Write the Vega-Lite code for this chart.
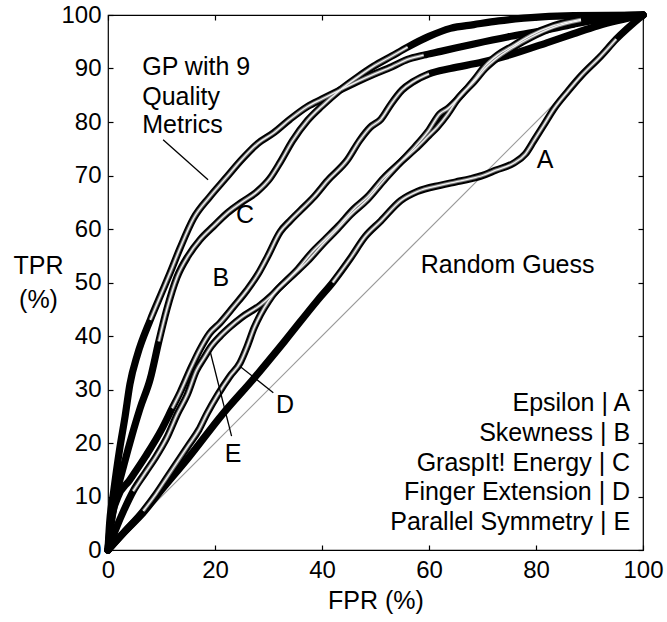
{
  "$schema": "https://vega.github.io/schema/vega-lite/v6.json",
  "width": 535,
  "height": 535,
  "autosize": {"type": "none"},
  "padding": {"left": 108, "top": 15, "right": 24, "bottom": 72},
  "background": "white",
  "config": {
    "font": "Liberation Sans",
    "view": {"stroke": "black", "strokeWidth": 1.2},
    "axis": {"grid": false, "domain": false, "labelFlush": false, "tickColor": "black", "tickSize": -5, "tickWidth": 1.2, "labelColor": "black", "labelFont": "Liberation Sans", "labelFontSize": 24, "titleFont": "Liberation Sans", "titleFontSize": 25, "titleFontWeight": "normal", "titleColor": "black"}
  },
  "datasets": {
    "curves": [
      {"s":"GP","fpr":0,"tpr":0},{"s":"GP","fpr":0.3,"tpr":5},{"s":"GP","fpr":1,"tpr":10.5},{"s":"GP","fpr":2.2,"tpr":19},{"s":"GP","fpr":3.2,"tpr":25},{"s":"GP","fpr":4.1,"tpr":31},{"s":"GP","fpr":5.5,"tpr":36.5},{"s":"GP","fpr":7.9,"tpr":43},{"s":"GP","fpr":10,"tpr":48},{"s":"GP","fpr":11.6,"tpr":51.8},{"s":"GP","fpr":13.5,"tpr":56.5},{"s":"GP","fpr":16,"tpr":62},{"s":"GP","fpr":19,"tpr":66},{"s":"GP","fpr":22,"tpr":69.5},{"s":"GP","fpr":25,"tpr":73},{"s":"GP","fpr":28,"tpr":76},{"s":"GP","fpr":31,"tpr":78},{"s":"GP","fpr":34,"tpr":80.5},{"s":"GP","fpr":37.3,"tpr":82.9},{"s":"GP","fpr":40,"tpr":84.3},{"s":"GP","fpr":43.4,"tpr":86},{"s":"GP","fpr":46.5,"tpr":87.5},{"s":"GP","fpr":49.6,"tpr":88.9},{"s":"GP","fpr":53,"tpr":90.3},{"s":"GP","fpr":56,"tpr":91.7},{"s":"GP","fpr":59,"tpr":92.5},{"s":"GP","fpr":62.2,"tpr":93.2},{"s":"GP","fpr":68.4,"tpr":94.6},{"s":"GP","fpr":74.7,"tpr":95.9},{"s":"GP","fpr":80.9,"tpr":97},{"s":"GP","fpr":87.1,"tpr":98.3},{"s":"GP","fpr":93.4,"tpr":99.4},{"s":"GP","fpr":100,"tpr":100},
      {"s":"C","fpr":0,"tpr":0},{"s":"C","fpr":0.6,"tpr":5},{"s":"C","fpr":1.5,"tpr":10},{"s":"C","fpr":3,"tpr":16},{"s":"C","fpr":4.5,"tpr":21.5},{"s":"C","fpr":6,"tpr":26.5},{"s":"C","fpr":7.9,"tpr":32},{"s":"C","fpr":9.5,"tpr":39},{"s":"C","fpr":11,"tpr":45},{"s":"C","fpr":12.9,"tpr":51},{"s":"C","fpr":15,"tpr":55},{"s":"C","fpr":17.2,"tpr":58},{"s":"C","fpr":19.7,"tpr":60.5},{"s":"C","fpr":22.3,"tpr":63},{"s":"C","fpr":25,"tpr":65},{"s":"C","fpr":27.9,"tpr":67},{"s":"C","fpr":30.3,"tpr":69.5},{"s":"C","fpr":32.2,"tpr":72.5},{"s":"C","fpr":34.5,"tpr":76.5},{"s":"C","fpr":37.3,"tpr":80.3},{"s":"C","fpr":40,"tpr":83},{"s":"C","fpr":43.4,"tpr":86},{"s":"C","fpr":46.5,"tpr":88.3},{"s":"C","fpr":49.6,"tpr":90.4},{"s":"C","fpr":53,"tpr":92.3},{"s":"C","fpr":56,"tpr":94},{"s":"C","fpr":60,"tpr":96},{"s":"C","fpr":64,"tpr":97.5},{"s":"C","fpr":68.4,"tpr":98.2},{"s":"C","fpr":73,"tpr":98.9},{"s":"C","fpr":77.7,"tpr":99.4},{"s":"C","fpr":87,"tpr":99.9},{"s":"C","fpr":100,"tpr":100},
      {"s":"B","fpr":0,"tpr":0},{"s":"B","fpr":0.5,"tpr":5},{"s":"B","fpr":1.8,"tpr":9.8},{"s":"B","fpr":4,"tpr":13},{"s":"B","fpr":7,"tpr":17.5},{"s":"B","fpr":10,"tpr":22.5},{"s":"B","fpr":12,"tpr":26.5},{"s":"B","fpr":13.5,"tpr":29.5},{"s":"B","fpr":15.5,"tpr":34},{"s":"B","fpr":17.2,"tpr":37.5},{"s":"B","fpr":19,"tpr":40.5},{"s":"B","fpr":21,"tpr":42.5},{"s":"B","fpr":23.5,"tpr":45.5},{"s":"B","fpr":26,"tpr":48.6},{"s":"B","fpr":28,"tpr":51.5},{"s":"B","fpr":29.8,"tpr":54.8},{"s":"B","fpr":32.2,"tpr":59.5},{"s":"B","fpr":34,"tpr":61.5},{"s":"B","fpr":36,"tpr":63.5},{"s":"B","fpr":38.5,"tpr":66},{"s":"B","fpr":41,"tpr":69},{"s":"B","fpr":44.8,"tpr":73},{"s":"B","fpr":47,"tpr":76.5},{"s":"B","fpr":49,"tpr":79},{"s":"B","fpr":51,"tpr":80.5},{"s":"B","fpr":53,"tpr":83.5},{"s":"B","fpr":55,"tpr":86},{"s":"B","fpr":57,"tpr":87.5},{"s":"B","fpr":60,"tpr":89},{"s":"B","fpr":64,"tpr":90},{"s":"B","fpr":70,"tpr":91.2},{"s":"B","fpr":75,"tpr":92.5},{"s":"B","fpr":82,"tpr":94.8},{"s":"B","fpr":87,"tpr":96.5},{"s":"B","fpr":91.6,"tpr":98},{"s":"B","fpr":100,"tpr":100},
      {"s":"E","fpr":0,"tpr":0},{"s":"E","fpr":1.5,"tpr":4},{"s":"E","fpr":3,"tpr":7.5},{"s":"E","fpr":4.7,"tpr":11},{"s":"E","fpr":7,"tpr":14.5},{"s":"E","fpr":9,"tpr":17.5},{"s":"E","fpr":11,"tpr":21},{"s":"E","fpr":13,"tpr":25.5},{"s":"E","fpr":14.8,"tpr":29},{"s":"E","fpr":16.5,"tpr":33.5},{"s":"E","fpr":18,"tpr":36},{"s":"E","fpr":19.1,"tpr":37.8},{"s":"E","fpr":21,"tpr":40},{"s":"E","fpr":22.8,"tpr":41.7},{"s":"E","fpr":25,"tpr":43.5},{"s":"E","fpr":28.5,"tpr":45.8},{"s":"E","fpr":30.5,"tpr":47.5},{"s":"E","fpr":32.2,"tpr":49.2},{"s":"E","fpr":35,"tpr":51.8},{"s":"E","fpr":37.3,"tpr":54},{"s":"E","fpr":40,"tpr":57},{"s":"E","fpr":42.9,"tpr":60},{"s":"E","fpr":45.5,"tpr":62.8},{"s":"E","fpr":48.5,"tpr":65.5},{"s":"E","fpr":51.5,"tpr":69},{"s":"E","fpr":54.7,"tpr":72.5},{"s":"E","fpr":57.5,"tpr":75.5},{"s":"E","fpr":60,"tpr":78.5},{"s":"E","fpr":62,"tpr":81.5},{"s":"E","fpr":63.5,"tpr":82.5},{"s":"E","fpr":66,"tpr":85},{"s":"E","fpr":68.4,"tpr":87.8},{"s":"E","fpr":70.5,"tpr":90.5},{"s":"E","fpr":72.8,"tpr":92.5},{"s":"E","fpr":75.8,"tpr":94.3},{"s":"E","fpr":79,"tpr":96.2},{"s":"E","fpr":83.3,"tpr":98},{"s":"E","fpr":88.4,"tpr":99.2},{"s":"E","fpr":94,"tpr":99.8},{"s":"E","fpr":100,"tpr":100},
      {"s":"D","fpr":0,"tpr":0},{"s":"D","fpr":3,"tpr":3.3},{"s":"D","fpr":6.6,"tpr":7.3},{"s":"D","fpr":9,"tpr":10.5},{"s":"D","fpr":11,"tpr":13.5},{"s":"D","fpr":13,"tpr":16.5},{"s":"D","fpr":15,"tpr":19.5},{"s":"D","fpr":17,"tpr":22.5},{"s":"D","fpr":18.5,"tpr":25.5},{"s":"D","fpr":20.5,"tpr":29},{"s":"D","fpr":22.8,"tpr":32.5},{"s":"D","fpr":24.7,"tpr":35},{"s":"D","fpr":26,"tpr":38},{"s":"D","fpr":27.3,"tpr":41.5},{"s":"D","fpr":28.5,"tpr":44},{"s":"D","fpr":30,"tpr":46.5},{"s":"D","fpr":31.5,"tpr":48.5},{"s":"D","fpr":33,"tpr":50},{"s":"D","fpr":35.5,"tpr":52.5},{"s":"D","fpr":38,"tpr":55.5},{"s":"D","fpr":40.5,"tpr":58},{"s":"D","fpr":43,"tpr":60.5},{"s":"D","fpr":46,"tpr":63.8},{"s":"D","fpr":48.5,"tpr":66},{"s":"D","fpr":51.5,"tpr":69.5},{"s":"D","fpr":54.7,"tpr":72.5},{"s":"D","fpr":57.5,"tpr":75},{"s":"D","fpr":60,"tpr":77.5},{"s":"D","fpr":61.5,"tpr":79},{"s":"D","fpr":63.5,"tpr":81.5},{"s":"D","fpr":65.5,"tpr":84.5},{"s":"D","fpr":68.4,"tpr":87.5},{"s":"D","fpr":70.5,"tpr":90},{"s":"D","fpr":72.8,"tpr":92},{"s":"D","fpr":75.8,"tpr":94},{"s":"D","fpr":79,"tpr":95.8},{"s":"D","fpr":83.3,"tpr":97.7},{"s":"D","fpr":88.4,"tpr":99},{"s":"D","fpr":94,"tpr":99.8},{"s":"D","fpr":100,"tpr":100},
      {"s":"A","fpr":0,"tpr":0},{"s":"A","fpr":3,"tpr":3.3},{"s":"A","fpr":6.6,"tpr":7},{"s":"A","fpr":10,"tpr":11.2},{"s":"A","fpr":15,"tpr":17.2},{"s":"A","fpr":21.5,"tpr":25.5},{"s":"A","fpr":27.2,"tpr":32},{"s":"A","fpr":33,"tpr":39},{"s":"A","fpr":39.1,"tpr":46.6},{"s":"A","fpr":42,"tpr":50},{"s":"A","fpr":45.3,"tpr":54.5},{"s":"A","fpr":48,"tpr":58.5},{"s":"A","fpr":51,"tpr":61.5},{"s":"A","fpr":54.7,"tpr":65.3},{"s":"A","fpr":57.8,"tpr":67},{"s":"A","fpr":62.2,"tpr":68.2},{"s":"A","fpr":65,"tpr":68.8},{"s":"A","fpr":67.8,"tpr":69.4},{"s":"A","fpr":70,"tpr":70},{"s":"A","fpr":72.5,"tpr":71},{"s":"A","fpr":75.8,"tpr":72.3},{"s":"A","fpr":78,"tpr":74},{"s":"A","fpr":79.6,"tpr":76.5},{"s":"A","fpr":81.5,"tpr":79.5},{"s":"A","fpr":83.3,"tpr":82.4},{"s":"A","fpr":86,"tpr":85.8},{"s":"A","fpr":88.4,"tpr":88.6},{"s":"A","fpr":92.1,"tpr":92.3},{"s":"A","fpr":95,"tpr":95.5},{"s":"A","fpr":100,"tpr":100}
    ],
    "diag": [{"fpr": 0, "tpr": 0, "fpr2": 100, "tpr2": 100}],
    "leaders": [
      {"fpr": 10.3, "tpr": 76.7, "fpr2": 18.7, "tpr2": 69.2},
      {"fpr": 19.1, "tpr": 37.1, "fpr2": 23.1, "tpr2": 21.3},
      {"fpr": 24.7, "tpr": 34.3, "fpr2": 30.9, "tpr2": 29.4}
    ],
    "centerLabels": [
      {"text": "A", "fpr": 81.7, "tpr": 71.4},
      {"text": "B", "fpr": 21.1, "tpr": 49.3},
      {"text": "C", "fpr": 25.6, "tpr": 61.2},
      {"text": "D", "fpr": 33.1, "tpr": 25.7},
      {"text": "E", "fpr": 23.4, "tpr": 16.5},
      {"text": "Random Guess", "fpr": 74.7, "tpr": 51.8}
    ],
    "leftLabels": [
      {"text": "GP with 9", "fpr": 6.4, "tpr": 88.8},
      {"text": "Quality", "fpr": 6.4, "tpr": 83.2},
      {"text": "Metrics", "fpr": 6.4, "tpr": 78.0}
    ],
    "legend": [
      {"text": "Epsilon | A", "fpr": 97.6, "tpr": 25.9},
      {"text": "Skewness | B", "fpr": 97.6, "tpr": 20.3},
      {"text": "GraspIt! Energy | C", "fpr": 97.6, "tpr": 14.7},
      {"text": "Finger Extension | D", "fpr": 97.6, "tpr": 9.4},
      {"text": "Parallel Symmetry | E", "fpr": 97.6, "tpr": 3.8}
    ]
  },
  "resolve": {"axis": {"x": "independent", "y": "independent"}},
  "layer": [
    {
      "data": {"name": "diag"},
      "mark": {"type": "rule", "color": "#999999", "strokeWidth": 1.2},
      "encoding": {
        "x": {"field": "fpr", "type": "quantitative", "scale": {"domain": [0, 100]}, "axis": {"orient": "top", "values": [0, 20, 40, 60, 80, 100], "labels": false, "title": null}},
        "y": {"field": "tpr", "type": "quantitative", "scale": {"domain": [0, 100]}, "axis": {"orient": "right", "values": [0, 10, 20, 30, 40, 50, 60, 70, 80, 90, 100], "labels": false, "title": null}},
        "x2": {"field": "fpr2"},
        "y2": {"field": "tpr2"}
      }
    },
    {
      "data": {"name": "curves"},
      "mark": {"type": "line", "color": "black", "strokeWidth": 7.2, "interpolate": "monotone", "strokeJoin": "round", "strokeCap": "round"},
      "encoding": {
        "x": {"field": "fpr", "type": "quantitative", "scale": {"domain": [0, 100]}, "axis": {"orient": "bottom", "values": [0, 20, 40, 60, 80, 100], "labelPadding": 13, "labelBaseline": "top", "title": "FPR (%)", "titleBaseline": "alphabetic", "titleX": 267.5, "titleY": 58, "titleAnchor": "middle"}},
        "y": {"field": "tpr", "type": "quantitative", "scale": {"domain": [0, 100]}, "axis": {"orient": "left", "values": [0, 10, 20, 30, 40, 50, 60, 70, 80, 90, 100], "labelPadding": 12, "title": ["TPR", "(%)"], "titleAngle": 0, "titleAlign": "center", "titleBaseline": "alphabetic", "titleX": -70, "titleY": 258, "titleLineHeight": 34}},
        "detail": {"field": "s"}
      }
    },
    {
      "data": {"name": "curves"},
      "transform": [{"filter": "(datum.s=='GP'&&datum.fpr>=7&&datum.fpr<=62)||(datum.s=='C'&&datum.fpr>=8&&datum.fpr<=58)||(datum.s=='B'&&datum.fpr>=12&&datum.fpr<=62)||(datum.s=='D'&&datum.fpr>=6&&datum.fpr<=90)||(datum.s=='E'&&datum.fpr>=4&&datum.fpr<=90)||(datum.s=='A'&&datum.fpr>=40&&datum.fpr<=97)"}],
      "mark": {"type": "line", "color": "#7a7a7a", "strokeWidth": 3.3, "interpolate": "monotone", "strokeJoin": "round"},
      "encoding": {
        "x": {"field": "fpr", "type": "quantitative", "axis": null},
        "y": {"field": "tpr", "type": "quantitative", "axis": null},
        "detail": {"field": "s"}
      }
    },
    {
      "data": {"name": "curves"},
      "transform": [{"filter": "(datum.s=='GP'&&datum.fpr>=7&&datum.fpr<=62)||(datum.s=='C'&&datum.fpr>=8&&datum.fpr<=58)||(datum.s=='B'&&datum.fpr>=12&&datum.fpr<=62)||(datum.s=='D'&&datum.fpr>=6&&datum.fpr<=90)||(datum.s=='E'&&datum.fpr>=4&&datum.fpr<=90)||(datum.s=='A'&&datum.fpr>=40&&datum.fpr<=97)"}],
      "mark": {"type": "line", "color": "#f4f4f4", "strokeWidth": 1.3, "interpolate": "monotone", "strokeJoin": "round"},
      "encoding": {
        "x": {"field": "fpr", "type": "quantitative", "axis": null},
        "y": {"field": "tpr", "type": "quantitative", "axis": null},
        "detail": {"field": "s"}
      }
    },
    {
      "data": {"name": "leaders"},
      "mark": {"type": "rule", "color": "black", "strokeWidth": 1.3},
      "encoding": {
        "x": {"field": "fpr", "type": "quantitative", "axis": null},
        "y": {"field": "tpr", "type": "quantitative", "axis": null},
        "x2": {"field": "fpr2"},
        "y2": {"field": "tpr2"}
      }
    },
    {
      "data": {"name": "centerLabels"},
      "mark": {"type": "text", "align": "center", "baseline": "alphabetic", "font": "Liberation Sans", "fontSize": 25, "color": "black"},
      "encoding": {
        "x": {"field": "fpr", "type": "quantitative", "axis": null},
        "y": {"field": "tpr", "type": "quantitative", "axis": null},
        "text": {"field": "text"}
      }
    },
    {
      "data": {"name": "leftLabels"},
      "mark": {"type": "text", "align": "left", "baseline": "alphabetic", "font": "Liberation Sans", "fontSize": 25, "color": "black"},
      "encoding": {
        "x": {"field": "fpr", "type": "quantitative", "axis": null},
        "y": {"field": "tpr", "type": "quantitative", "axis": null},
        "text": {"field": "text"}
      }
    },
    {
      "data": {"name": "legend"},
      "mark": {"type": "text", "align": "right", "baseline": "alphabetic", "font": "Liberation Sans", "fontSize": 25, "color": "black"},
      "encoding": {
        "x": {"field": "fpr", "type": "quantitative", "axis": null},
        "y": {"field": "tpr", "type": "quantitative", "axis": null},
        "text": {"field": "text"}
      }
    }
  ]
}
